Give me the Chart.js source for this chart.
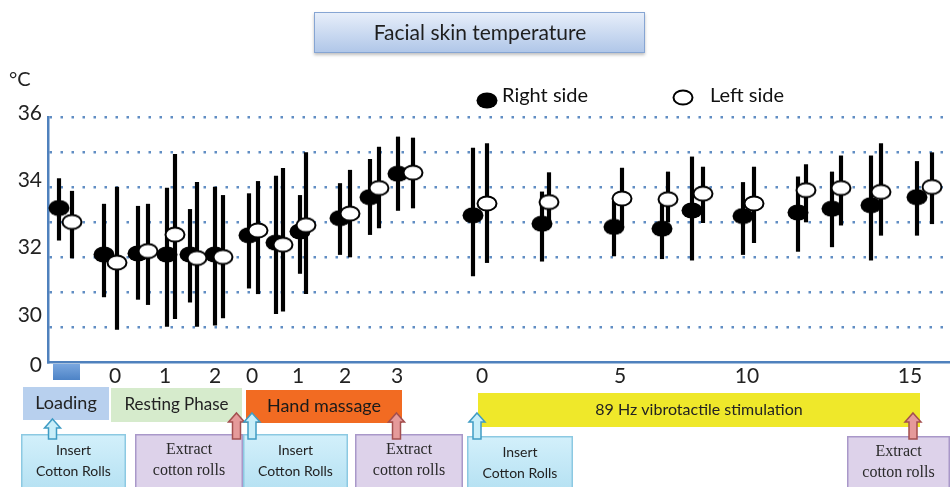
<!DOCTYPE html>
<html><head><meta charset="utf-8">
<script src="https://cdn.jsdelivr.net/npm/chart.js@4/dist/chart.umd.min.js"></script>
<style>html,body{margin:0;padding:0;background:#fff;overflow:hidden}#wrap{position:relative;width:950px;height:487px}</style>
</head><body><div id="wrap"><canvas id="c" width="950" height="487"></canvas></div>
<script>
// ---------- data ----------
const chartTitle = 'Facial skin temperature';
const unitLabel = '°C';
const seriesNames = ['Right side', 'Left side'];
// position of each measurement along the time line (axis units)
const rightX = [1.1, 5.6, 9.0, 11.9, 14.2, 16.7, 20.1, 22.8, 25.2, 29.2, 32.2, 35.0, 42.5, 49.4, 56.6, 61.4, 64.4, 69.5, 75.0, 78.4, 82.3, 86.9];
const leftX  = [2.4, 6.9, 10.0, 12.7, 14.9, 17.5, 21.0, 23.5, 25.8, 30.2, 33.1, 36.5, 43.9, 50.1, 57.4, 62.0, 65.5, 70.6, 75.8, 79.3, 83.3, 88.4];
const rightMean = [33.40, 32.07, 32.10, 32.07, 32.07, 32.07, 32.62, 32.41, 32.73, 33.11, 33.71, 34.38, 33.19, 32.95, 32.86, 32.81, 33.33, 33.17, 33.27, 33.38, 33.48, 33.71];
const rightHi   = [34.24, 33.51, 33.45, 33.97, 33.36, 34.00, 33.81, 34.31, 33.76, 34.10, 34.79, 35.43, 35.11, 33.86, 33.60, 33.53, 34.86, 34.13, 34.29, 34.43, 34.89, 34.73];
const rightLo   = [32.48, 30.86, 30.79, 30.02, 30.71, 30.05, 31.11, 30.38, 31.53, 32.07, 32.64, 33.33, 31.46, 31.88, 32.03, 31.95, 31.91, 32.07, 32.16, 32.29, 31.91, 32.62];
const leftMean  = [33.00, 31.84, 32.17, 32.64, 31.97, 32.00, 32.76, 32.35, 32.91, 33.24, 33.97, 34.41, 33.53, 33.57, 33.67, 33.65, 33.81, 33.53, 33.91, 33.97, 33.86, 34.00];
const leftHi    = [33.88, 34.00, 33.51, 34.93, 34.13, 33.76, 34.16, 34.53, 34.98, 34.48, 35.14, 35.40, 35.24, 34.41, 34.54, 34.43, 34.57, 34.57, 34.64, 34.89, 35.24, 34.98];
const leftLo    = [31.97, 29.93, 30.64, 30.24, 30.02, 30.26, 30.95, 30.45, 30.95, 32.00, 32.83, 33.40, 31.84, 32.93, 32.91, 33.00, 32.98, 32.41, 33.00, 32.91, 32.62, 32.95];
// x tick labels (minutes within each phase)
const xTickPos    = [6.7, 11.7, 16.7, 20.4, 25.0, 29.7, 34.9, 43.4, 57.2, 69.9, 86.2];
const xTickLabels = ['0', '1', '2', '0', '1', '2', '3', '0', '5', '10', '15'];
// y tick labels (broken axis: bottom shows 0)
const yTickValues = [36, 34, 32, 30, 28.5];
const yTickLabels = ['36', '34', '32', '30', '0'];
// protocol phases along the time line
const phaseNames = ['Loading', 'Resting Phase', 'Hand massage', '89 Hz vibrotactile stimulation'];
const phaseStart = [-2.5, 6.3, 19.8, 43.0];
const phaseEnd   = [6.1, 19.4, 35.4, 87.2];
const loadingMark = [0.5, 3.2];
// cotton roll events
const eventKinds  = ['insert', 'extract', 'insert', 'extract', 'insert', 'extract'];
const eventTexts  = [['Insert', 'Cotton Rolls'], ['Extract', 'cotton rolls'], ['Insert', 'Cotton Rolls'], ['Extract', 'cotton rolls'], ['Insert', 'Cotton Rolls'], ['Extract', 'cotton rolls']];
const eventAt     = [0.45, 18.85, 20.4, 34.85, 42.9, 86.5];
const eventBoxFrom = [-2.7, 8.7, 19.5, 30.7, 41.9, 79.9];
const eventBoxTo   = [7.8, 19.5, 30.0, 41.5, 52.5, 90.2];

// ---------- styles ----------
const SANS = 'Lato, "Open Sans", sans-serif';
function makeMarker(fill, stroke) {
  const c = document.createElement('canvas');
  c.width = 22; c.height = 17;
  const g = c.getContext('2d');
  g.beginPath();
  g.ellipse(11, 8.5, stroke ? 9.5 : 10.5, stroke ? 7 : 8, 0, 0, Math.PI * 2);
  g.fillStyle = fill; g.fill();
  if (stroke) { g.lineWidth = 2; g.strokeStyle = stroke; g.stroke(); }
  return c;
}
const blackMarker = makeMarker('#000', null);
const whiteMarker = makeMarker('#fff', '#000');
const phaseStyle = [
  {fill: '#b8d0ee', color: '#222', top: 387, h: 33, size: 18},
  {fill: '#d6ebcc', color: '#222', top: 388, h: 34, size: 17},
  {fill: '#f26b22', color: '#1a1a1a', top: 390, h: 33, size: 18},
  {fill: '#efe82a', color: '#222', top: 393, h: 34, size: 16}
];

function upArrow(ctx, cx, top, bottom, fill, stroke) {
  const hw = 8, sw = 4, hh = 9;
  ctx.beginPath();
  ctx.moveTo(cx, top);
  ctx.lineTo(cx + hw, top + hh);
  ctx.lineTo(cx + sw, top + hh);
  ctx.lineTo(cx + sw, bottom);
  ctx.lineTo(cx - sw, bottom);
  ctx.lineTo(cx - sw, top + hh);
  ctx.lineTo(cx - hw, top + hh);
  ctx.closePath();
  ctx.fillStyle = fill; ctx.fill();
  ctx.lineWidth = 1.5; ctx.strokeStyle = stroke; ctx.stroke();
}

const decor = {
  id: 'decor',
  afterDraw(chart) {
    const ctx = chart.ctx;
    const X = v => chart.scales.x.getPixelForValue(v);
    ctx.save();
    // title box
    ctx.shadowColor = 'rgba(0,0,0,0.25)'; ctx.shadowBlur = 3; ctx.shadowOffsetY = 2;
    let g = ctx.createLinearGradient(0, 12, 0, 53);
    g.addColorStop(0, '#e8effa'); g.addColorStop(1, '#afc6e8');
    ctx.fillStyle = g; ctx.fillRect(314, 12, 331, 41);
    ctx.shadowColor = 'transparent';
    ctx.strokeStyle = '#86a5d3'; ctx.lineWidth = 1; ctx.strokeRect(314.5, 12.5, 330, 40);
    ctx.fillStyle = '#1e1e1e'; ctx.font = '21px ' + SANS; ctx.textAlign = 'center'; ctx.textBaseline = 'middle';
    ctx.fillText(chartTitle, 480, 33);
    // unit
    ctx.textAlign = 'left'; ctx.fillStyle = '#222'; ctx.font = '20px ' + SANS;
    ctx.fillText(unitLabel, 9, 80);
    // legend
    ctx.drawImage(blackMarker, 476, 92);
    ctx.drawImage(whiteMarker, 672, 89);
    ctx.fillStyle = '#111'; ctx.font = '20px ' + SANS;
    ctx.fillText(seriesNames[0], 502, 96);
    ctx.fillText(seriesNames[1], 710, 96);
    // loading mark on axis
    g = ctx.createLinearGradient(0, 364, 0, 380);
    g.addColorStop(0, '#7aa7df'); g.addColorStop(1, '#4d83c6');
    ctx.fillStyle = g; ctx.fillRect(X(loadingMark[0]), 364, X(loadingMark[1]) - X(loadingMark[0]), 16);
    // phases
    phaseNames.forEach((name, i) => {
      const s = phaseStyle[i];
      const x0 = X(phaseStart[i]), x1 = X(phaseEnd[i]);
      ctx.fillStyle = s.fill; ctx.fillRect(x0, s.top, x1 - x0, s.h);
      ctx.fillStyle = s.color; ctx.font = s.size + 'px ' + SANS; ctx.textAlign = 'center';
      ctx.fillText(name, (x0 + x1) / 2, s.top + s.h / 2);
    });
    // event boxes
    eventKinds.forEach((k, i) => {
      const x0 = X(eventBoxFrom[i]), x1 = X(eventBoxTo[i]);
      const top = i < 4 ? 434 : 436;
      if (k === 'insert') {
        g = ctx.createLinearGradient(0, top, 0, 487);
        g.addColorStop(0, '#d3f0fb'); g.addColorStop(1, '#b7e2f3');
        ctx.fillStyle = g; ctx.fillRect(x0, top, x1 - x0, 60);
        ctx.strokeStyle = '#8cc9e2'; ctx.lineWidth = 1.5; ctx.strokeRect(x0 + 0.75, top + 0.75, x1 - x0 - 1.5, 60);
        ctx.fillStyle = '#222'; ctx.font = '14px ' + SANS;
      } else {
        ctx.fillStyle = '#ddd2ea'; ctx.fillRect(x0, top, x1 - x0, 60);
        ctx.strokeStyle = '#a998c9'; ctx.lineWidth = 1.5; ctx.strokeRect(x0 + 0.75, top + 0.75, x1 - x0 - 1.5, 60);
        ctx.fillStyle = '#2a2a2a'; ctx.font = '16px "Liberation Serif", "DejaVu Serif", serif';
      }
      ctx.textAlign = 'center';
      const cx = (x0 + x1) / 2;
      ctx.fillText(eventTexts[i][0], cx, top + 16);
      ctx.fillText(eventTexts[i][1], cx, top + 37);
    });
    // arrows
    eventKinds.forEach((k, i) => {
      const cx = X(eventAt[i]);
      const top = i === 0 ? 419 : 413;
      if (k === 'insert') upArrow(ctx, cx, top, 439, '#c8eef9', '#3f9cc4');
      else upArrow(ctx, cx, top, 439, '#e59a9a', '#a34f4f');
    });
    ctx.restore();
  }
};

const gridBlue = 'rgba(79,129,189,0.9)';
new Chart(document.getElementById('c'), {
  type: 'scatter',
  data: {
    datasets: [
      {type: 'bar', label: seriesNames[0] + ' SD', data: rightX.map((x, i) => ({x, y: [rightLo[i], rightHi[i]]})),
       backgroundColor: '#000', borderWidth: 0, barThickness: 3.5, grouped: false, order: 3, xAxisID: 'x', yAxisID: 'y'},
      {type: 'scatter', label: seriesNames[0], data: rightX.map((x, i) => ({x, y: rightMean[i]})),
       pointStyle: blackMarker, pointRadius: 10, order: 2, xAxisID: 'x', yAxisID: 'y'},
      {type: 'bar', label: seriesNames[1] + ' SD', data: leftX.map((x, i) => ({x, y: [leftLo[i], leftHi[i]]})),
       backgroundColor: '#000', borderWidth: 0, barThickness: 3.5, grouped: false, order: 1, xAxisID: 'x', yAxisID: 'y'},
      {type: 'scatter', label: seriesNames[1], data: leftX.map((x, i) => ({x, y: leftMean[i]})),
       pointStyle: whiteMarker, pointRadius: 10, order: 0, xAxisID: 'x', yAxisID: 'y'}
    ]
  },
  options: {
    responsive: false, animation: false, events: [],
    layout: {autoPadding: false, padding: {top: 117, right: 0, left: 0, bottom: 0}},
    plugins: {legend: {display: false}, title: {display: false}, tooltip: {enabled: false}},
    scales: {
      x: {type: 'linear', min: 0, max: 90.2, offset: false,
          grid: {display: false, drawTicks: false},
          border: {display: true, color: '#4f81bd', width: 2.5},
          afterBuildTicks: s => { s.ticks = xTickPos.map(v => ({value: v})); },
          ticks: {autoSkip: false, maxRotation: 0, padding: 2, color: '#222', font: {family: SANS, size: 21},
                  callback: (v, i) => xTickLabels[i]},
          afterFit: s => { s.height = 125; s.paddingLeft = 0; s.paddingRight = 0; }},
      y: {type: 'linear', position: 'left', min: 29, max: 36, weight: 0,
          ticks: {display: false, stepSize: 1},
          grid: {drawTicks: false, lineWidth: 2.5,
                 color: c => (c.tick && c.tick.value > 29.5) ? gridBlue : 'rgba(0,0,0,0)'},
          border: {display: true, color: '#4f81bd', width: 2.5, dash: [2.5, 8.5]},
          afterFit: s => { s.width = 0; s.paddingTop = 0; s.paddingBottom = 0; }},
      yl: {type: 'linear', position: 'left', min: 28.6, max: 35.89, weight: 1,
           grid: {display: false, drawTicks: false}, border: {display: false},
           afterBuildTicks: s => { s.ticks = yTickValues.map(v => ({value: v})); },
           ticks: {color: '#222', font: {family: SANS, size: 21}, padding: 6, callback: (v, i) => yTickLabels[i]},
           afterFit: s => { s.width = 48; s.paddingTop = 0; s.paddingBottom = 0; }}
    }
  },
  plugins: [decor]
});
</script></body></html>
